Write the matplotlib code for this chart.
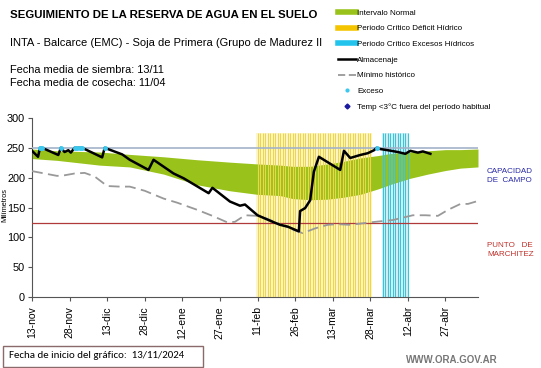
"""
Seguimiento de la reserva de agua en el suelo - INTA Balcarce, soja de primera.
"""
import numpy as np
import matplotlib.pyplot as plt
from matplotlib.lines import Line2D
from matplotlib.patches import Rectangle

plt.rcParams['font.family'] = ['Liberation Sans', 'DejaVu Sans']

# Days since 13/11/2024
TICK_DAYS = [0, 15, 30, 45, 60, 75, 90, 105, 120, 135, 150, 165]
TICK_LABELS = ['13-nov', '28-nov', '13-dic', '28-dic', '12-ene', '27-ene',
               '11-feb', '26-feb', '13-mar', '28-mar', '12-abr', '27-abr']

# Intervalo normal (upper / lower bounds)
band_days = [0, 10, 27, 39, 52.5, 66, 79, 90, 99, 104, 111, 118, 124, 131, 138, 144, 151, 158, 165, 171, 178]
band_hi = [248, 245, 243, 239, 235, 230, 226, 223, 221, 219, 219, 223, 227, 233, 237, 241, 243, 245, 247, 247, 248]
band_lo = [232, 229, 221, 218, 206, 188, 178, 172, 170, 165, 163, 164, 167, 172, 181, 190, 199, 206, 212, 216, 218]

# Almacenaje
store_days = [0, 2.4, 3.2, 4, 10.5, 11.5, 13, 14.5, 15.5, 17, 20, 28, 29, 36, 39, 46.5, 48.5,
              56.5, 60.5, 70.5, 72, 79, 83, 85, 90, 95.5, 99, 102, 106.5, 107, 109, 111, 112.5,
              114.5, 123, 124.5, 127, 131, 134, 136.5, 137.5, 139, 142, 146, 149, 151, 154,
              156, 159]
store_vals = [245, 235, 250, 250, 238, 250, 243, 246, 242, 250, 250, 234, 250, 239, 230, 213, 230,
              207, 199, 174, 183, 160, 153, 155, 137, 127, 121, 118, 110, 144, 149, 162, 210,
              235, 213, 245, 233, 238, 241, 246, 250, 248, 246, 243, 240, 245, 242,
              244, 240]

# Minimo historico
min_days = [0, 5, 10, 13, 17, 21, 25, 30, 35, 39, 45, 52.5, 58, 66, 72, 78, 81, 85, 90, 94,
            99, 104, 108, 113, 118, 122, 127, 133, 137, 144, 148, 152, 157, 162, 166, 171, 174, 178]
min_vals = [211, 207, 203, 204, 207, 208, 202, 186, 185, 185, 178, 165, 158, 146, 136, 125, 126, 137,
            136, 131, 122, 113, 107, 115, 121, 122, 121, 124, 126, 129, 133, 137, 137, 136, 146,
            156, 156, 161]

# Exceso markers
excess_days = [3.2, 4, 11.5, 17, 18, 19, 20, 29, 137.5]
excess_vals = [250, 250, 250, 250, 250, 250, 250, 250, 250]

# Critical periods (daily bars)
deficit_start, deficit_end = 90, 135
excess_start, excess_end = 140, 150
PERIOD_TOP = 275

CAPACIDAD = 250
MARCHITEZ = 124


def main():
    fig = plt.figure(figsize=(5.41, 3.68), dpi=100)
    ax = fig.add_axes([32 / 541, 71 / 368, 446 / 541, 179 / 368])

    # critical period bars
    d_days = np.arange(deficit_start, deficit_end + 1)
    ax.bar(d_days, [PERIOD_TOP] * len(d_days), width=1.0, color='#fdf6c8', zorder=1)
    ax.vlines(d_days, 0, PERIOD_TOP, color='#efd54a', lw=0.8, zorder=3)
    e_days = np.arange(excess_start, excess_end + 1)
    ax.bar(e_days, [PERIOD_TOP] * len(e_days), width=1.0, color='#d6f1f6', zorder=1)
    ax.vlines(e_days, 0, PERIOD_TOP, color='#3cc3d8', lw=0.8, zorder=3)

    ax.fill_between(band_days, band_lo, band_hi, color='#99c31a', lw=0, zorder=2)

    ax.axhline(CAPACIDAD, color='#a3b3c9', lw=1.2, zorder=4)
    ax.axhline(MARCHITEZ, color='#b03a3a', lw=0.9, zorder=4)

    ax.plot(min_days, min_vals, color='#999999', lw=1.3, dashes=(6, 3), zorder=5)
    ax.plot(store_days, store_vals, color='black', lw=1.8, zorder=6)
    ax.plot(excess_days, excess_vals, ls='none', marker='o', ms=2.5,
            color='#3cc8ee', zorder=7)

    ax.set_xlim(0, 178)
    ax.set_ylim(0, 300)
    ax.set_yticks(range(0, 301, 50))
    ax.set_xticks(TICK_DAYS)
    ax.set_xticklabels(TICK_LABELS, rotation=90, fontsize=7.5)
    ax.tick_params(axis='y', labelsize=7.8, length=3, pad=2, color='#555555')
    ax.tick_params(axis='x', length=3, color='#555555')
    for side in ('top', 'right'):
        ax.spines[side].set_visible(False)
    ax.spines['left'].set_color('#555555')
    ax.spines['bottom'].set_color('#555555')
    fig.text(5 / 541, 1 - 205 / 368, 'Milímetros', fontsize=5.3, rotation=90,
             ha='center', va='center')

    # headings
    fig.text(10 / 541, 1 - 15 / 368, 'SEGUIMIENTO DE LA RESERVA DE AGUA EN EL SUELO',
             fontsize=8.2, fontweight='bold', va='center')
    fig.text(10 / 541, 1 - 43 / 368, 'INTA - Balcarce (EMC) - Soja de Primera (Grupo de Madurez II',
             fontsize=8.0, va='center')
    fig.text(10 / 541, 1 - 70 / 368, 'Fecha media de siembra: 13/11', fontsize=7.9, va='center')
    fig.text(10 / 541, 1 - 83 / 368, 'Fecha media de cosecha: 11/04', fontsize=7.9, va='center')

    # legend
    handles = [
        Line2D([], [], color='#99c31a', lw=4),
        Line2D([], [], color='#f5c400', lw=4),
        Line2D([], [], color='#22c4ee', lw=4),
        Line2D([], [], color='black', lw=1.8),
        Line2D([], [], color='#999999', lw=1.3, dashes=(4, 2)),
        Line2D([], [], ls='none', marker='o', ms=2, color='#3cc8ee'),
        Line2D([], [], ls='none', marker='D', ms=2.5, color='#1a1aa0'),
    ]
    labels = ['Intervalo Normal', 'Periodo Crítico Déficit Hídrico',
              'Periodo Crítico Excesos Hídricos', 'Almacenaje', 'Mínimo histórico',
              'Exceso', 'Temp <3°C fuera del período habitual']
    fig.legend(handles, labels, loc='upper left', bbox_to_anchor=(334 / 541, 1 - 5 / 368),
               frameon=False, fontsize=5.8, handlelength=2.2, handletextpad=0.2,
               labelspacing=1.0, borderpad=0)

    # side labels
    fig.text(487 / 541, 1 - 176 / 368, 'CAPACIDAD\nDE  CAMPO', fontsize=5.8,
             color='#2a2aa8', va='center', linespacing=1.5)
    fig.text(487 / 541, 1 - 250 / 368, 'PUNTO   DE\nMARCHITEZ', fontsize=5.8,
             color='#c0302a', va='center', linespacing=1.5)

    # footer
    fig.patches.append(Rectangle((3 / 541, 1 - 367 / 368), 200 / 541, 21 / 368,
                                 transform=fig.transFigure, fill=False,
                                 edgecolor='#8a6a6a', lw=1))
    fig.text(9 / 541, 1 - 356 / 368, 'Fecha de inicio del gráfico:  13/11/2024',
             fontsize=7.8, va='center', family=['Carlito', 'Liberation Sans', 'DejaVu Sans'])
    fig.text(498 / 541, 1 - 360 / 368, 'WWW.ORA.GOV.AR', fontsize=7, ha='right',
             va='center', color='#777777', fontweight='bold')

    fig.savefig('out.png', dpi=100)


if __name__ == '__main__':
    main()
